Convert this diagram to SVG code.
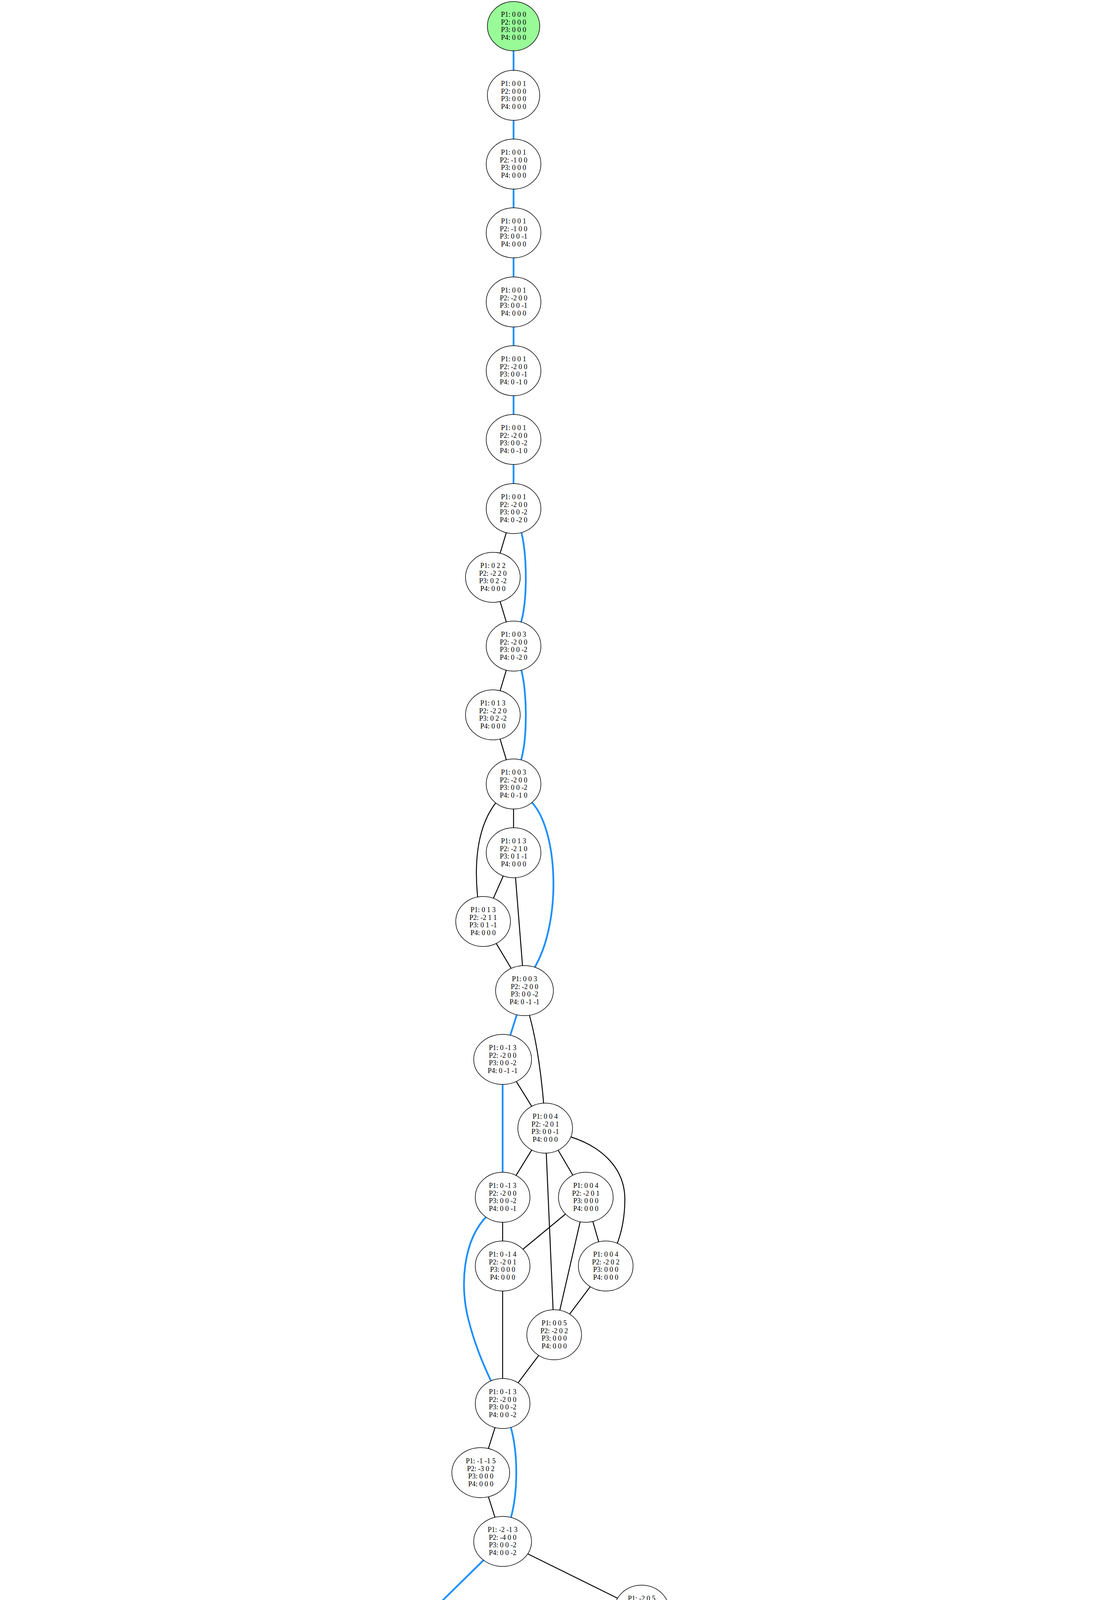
<svg xmlns="http://www.w3.org/2000/svg" width="2832" height="4721" viewBox="0 0 2832 4721">
<style>
.e{fill:none;stroke:#000;stroke-width:2.4}
.b{fill:none;stroke:#1e90ff;stroke-width:4.5}
ellipse{fill:#fff;stroke:#000;stroke-width:1.5}
.g ellipse{fill:#98fb98}
.r ellipse{fill:#ff9999}
text{font-family:"Liberation Serif","Times New Roman",serif;font-size:18px;text-anchor:middle;fill:#000}
</style>
<rect width="2832" height="4721" fill="#fff"/>
<g id="connectors">
<path class="b" d="M1315,67 V244"/>
<path class="b" d="M1315,244 V420"/>
<path class="b" d="M1315,420 V596"/>
<path class="b" d="M1315,596 V773"/>
<path class="b" d="M1315,773 V949"/>
<path class="b" d="M1315,949 V1125"/>
<path class="b" d="M1315,1125 V1302"/>
<path class="b" d="M1333,1356 C1350,1410 1352,1540 1332,1600"/>
<path class="b" d="M1333,1709 C1350,1763 1352,1893 1332,1953"/>
<path class="b" d="M1358,2050 C1430,2120 1440,2360 1367,2480"/>
<path class="b" d="M1343,2536 L1287,2712"/>
<path class="b" d="M1287,2712 V3065"/>
<path class="b" d="M1250,3110 C1182,3175 1178,3300 1200,3380 C1215,3440 1240,3500 1262,3545"/>
<path class="b" d="M1307,3650 C1327,3720 1327,3820 1307,3890"/>
<path class="b" d="M1287,3946 L928,4299"/>
<path class="b" d="M870,4318 C790,4350 690,4390 630,4436"/>
<path class="e" d="M1315,1302 L1262,1478"/>
<path class="e" d="M1262,1478 L1315,1654"/>
<path class="e" d="M1315,1654 L1262,1830"/>
<path class="e" d="M1262,1830 L1315,2007"/>
<path class="e" d="M1315,2007 V2183"/>
<path class="e" d="M1272,2052 C1225,2110 1212,2200 1224,2305"/>
<path class="e" d="M1315,2183 L1237,2359"/>
<path class="e" d="M1315,2183 L1343,2536"/>
<path class="e" d="M1237,2359 L1343,2536"/>
<path class="e" d="M1350,2580 C1372,2650 1390,2760 1396,2888"/>
<path class="e" d="M1287,2712 L1396,2888"/>
<path class="e" d="M1396,2888 L1287,3065"/>
<path class="e" d="M1396,2888 L1500,3065"/>
<path class="e" d="M1460,2910 C1540,2935 1600,2990 1600,3070 C1600,3120 1590,3160 1578,3190"/>
<path class="e" d="M1396,2888 L1419,3417"/>
<path class="e" d="M1287,3065 V3241"/>
<path class="e" d="M1500,3065 L1287,3241"/>
<path class="e" d="M1500,3065 L1551,3241"/>
<path class="e" d="M1500,3065 L1419,3417"/>
<path class="e" d="M1287,3241 V3593"/>
<path class="e" d="M1551,3241 L1419,3417"/>
<path class="e" d="M1419,3417 L1287,3593"/>
<path class="e" d="M1287,3593 L1231,3770"/>
<path class="e" d="M1231,3770 L1287,3946"/>
<path class="e" d="M1287,3946 L1643,4122"/>
<path class="e" d="M1643,4122 L928,4299"/>
<path class="e" d="M1643,4122 L744,4475"/>
<path class="e" d="M1643,4122 L1537,4299"/>
<path class="e" d="M1643,4122 L1590,4475"/>
<path class="e" d="M1643,4122 L2005,4299"/>
<path class="e" d="M1643,4122 L2004,4475"/>
<path class="e" d="M1705,4138 C1800,4160 2100,4220 2200,4278"/>
<path class="e" d="M1705,4127 C2000,4155 2300,4200 2422,4268"/>
<path class="e" d="M928,4299 L744,4475"/>
<path class="e" d="M1537,4299 L1419,4475"/>
<path class="e" d="M1537,4299 L1590,4475"/>
<path class="e" d="M2005,4299 V4475"/>
<path class="e" d="M2005,4299 L2175,4475"/>
<path class="e" d="M2260,4299 L2354,4475"/>
<path class="e" d="M2478,4299 L2532,4475"/>
<path class="e" d="M700,4525 C670,4555 610,4570 540,4568 C460,4566 390,4550 312,4555 C230,4560 160,4575 120,4612"/>
<path class="e" d="M695,4525 C660,4558 600,4563 530,4563 C450,4563 360,4560 298,4612"/>
<path class="e" d="M700,4525 C680,4550 640,4560 600,4565 C530,4575 490,4585 462,4612"/>
<path class="e" d="M744,4475 L580,4651"/>
<path class="e" d="M744,4475 V4651"/>
<path class="e" d="M744,4475 L908,4651"/>
<path class="e" d="M1545,4522 C1510,4552 1470,4563 1420,4563 C1330,4562 1170,4550 1120,4612"/>
<path class="e" d="M1545,4522 C1510,4555 1470,4566 1420,4568 C1350,4572 1300,4585 1282,4612"/>
<path class="e" d="M1590,4475 L1411,4651"/>
<path class="e" d="M1590,4475 V4651"/>
<path class="e" d="M1590,4475 L1759,4651"/>
<path class="e" d="M1650,4495 C1720,4525 1820,4560 1875,4612"/>
<path class="e" d="M2004,4475 L1923,4651"/>
<path class="e" d="M2004,4475 L2088,4651"/>
<path class="e" d="M2050,4515 C2110,4550 2170,4570 2200,4608"/>
<path class="e" d="M2055,4515 C2100,4560 2200,4555 2272,4563 C2320,4570 2345,4590 2365,4610"/>
<path class="e" d="M2055,4515 C2110,4575 2200,4580 2270,4572 C2360,4560 2480,4540 2545,4612"/>
<path class="e" d="M2055,4515 C2120,4585 2260,4572 2380,4558 C2520,4540 2650,4545 2710,4612"/>
</g>
<g id="n0" class="g"><ellipse cx="1315" cy="67" rx="67" ry="63"/><text y="43"><tspan x="1315">P1: 0 0 0</tspan><tspan x="1315" dy="19.5">P2: 0 0 0</tspan><tspan x="1315" dy="19.5">P3: 0 0 0</tspan><tspan x="1315" dy="19.5">P4: 0 0 0</tspan></text></g>
<g id="n1"><ellipse cx="1315" cy="244" rx="67" ry="64"/><text y="220"><tspan x="1315">P1: 0 0 1</tspan><tspan x="1315" dy="19.5">P2: 0 0 0</tspan><tspan x="1315" dy="19.5">P3: 0 0 0</tspan><tspan x="1315" dy="19.5">P4: 0 0 0</tspan></text></g>
<g id="n2"><ellipse cx="1315" cy="420" rx="70" ry="64"/><text y="396"><tspan x="1315">P1: 0 0 1</tspan><tspan x="1315" dy="19.5">P2: -1 0 0</tspan><tspan x="1315" dy="19.5">P3: 0 0 0</tspan><tspan x="1315" dy="19.5">P4: 0 0 0</tspan></text></g>
<g id="n3"><ellipse cx="1315" cy="596" rx="70" ry="64"/><text y="572"><tspan x="1315">P1: 0 0 1</tspan><tspan x="1315" dy="19.5">P2: -1 0 0</tspan><tspan x="1315" dy="19.5">P3: 0 0 -1</tspan><tspan x="1315" dy="19.5">P4: 0 0 0</tspan></text></g>
<g id="n4"><ellipse cx="1315" cy="773" rx="70" ry="64"/><text y="749"><tspan x="1315">P1: 0 0 1</tspan><tspan x="1315" dy="19.5">P2: -2 0 0</tspan><tspan x="1315" dy="19.5">P3: 0 0 -1</tspan><tspan x="1315" dy="19.5">P4: 0 0 0</tspan></text></g>
<g id="n5"><ellipse cx="1315" cy="949" rx="70" ry="64"/><text y="925"><tspan x="1315">P1: 0 0 1</tspan><tspan x="1315" dy="19.5">P2: -2 0 0</tspan><tspan x="1315" dy="19.5">P3: 0 0 -1</tspan><tspan x="1315" dy="19.5">P4: 0 -1 0</tspan></text></g>
<g id="n6"><ellipse cx="1315" cy="1125" rx="70" ry="64"/><text y="1101"><tspan x="1315">P1: 0 0 1</tspan><tspan x="1315" dy="19.5">P2: -2 0 0</tspan><tspan x="1315" dy="19.5">P3: 0 0 -2</tspan><tspan x="1315" dy="19.5">P4: 0 -1 0</tspan></text></g>
<g id="n7"><ellipse cx="1315" cy="1302" rx="70" ry="64"/><text y="1278"><tspan x="1315">P1: 0 0 1</tspan><tspan x="1315" dy="19.5">P2: -2 0 0</tspan><tspan x="1315" dy="19.5">P3: 0 0 -2</tspan><tspan x="1315" dy="19.5">P4: 0 -2 0</tspan></text></g>
<g id="n8"><ellipse cx="1262" cy="1478" rx="70" ry="64"/><text y="1454"><tspan x="1262">P1: 0 2 2</tspan><tspan x="1262" dy="19.5">P2: -2 2 0</tspan><tspan x="1262" dy="19.5">P3: 0 2 -2</tspan><tspan x="1262" dy="19.5">P4: 0 0 0</tspan></text></g>
<g id="n9"><ellipse cx="1315" cy="1654" rx="70" ry="64"/><text y="1630"><tspan x="1315">P1: 0 0 3</tspan><tspan x="1315" dy="19.5">P2: -2 0 0</tspan><tspan x="1315" dy="19.5">P3: 0 0 -2</tspan><tspan x="1315" dy="19.5">P4: 0 -2 0</tspan></text></g>
<g id="n10"><ellipse cx="1262" cy="1830" rx="70" ry="64"/><text y="1806"><tspan x="1262">P1: 0 1 3</tspan><tspan x="1262" dy="19.5">P2: -2 2 0</tspan><tspan x="1262" dy="19.5">P3: 0 2 -2</tspan><tspan x="1262" dy="19.5">P4: 0 0 0</tspan></text></g>
<g id="n11"><ellipse cx="1315" cy="2007" rx="70" ry="64"/><text y="1983"><tspan x="1315">P1: 0 0 3</tspan><tspan x="1315" dy="19.5">P2: -2 0 0</tspan><tspan x="1315" dy="19.5">P3: 0 0 -2</tspan><tspan x="1315" dy="19.5">P4: 0 -1 0</tspan></text></g>
<g id="n12"><ellipse cx="1315" cy="2183" rx="70" ry="64"/><text y="2159"><tspan x="1315">P1: 0 1 3</tspan><tspan x="1315" dy="19.5">P2: -2 1 0</tspan><tspan x="1315" dy="19.5">P3: 0 1 -1</tspan><tspan x="1315" dy="19.5">P4: 0 0 0</tspan></text></g>
<g id="n13"><ellipse cx="1237" cy="2359" rx="70" ry="64"/><text y="2335"><tspan x="1237">P1: 0 1 3</tspan><tspan x="1237" dy="19.5">P2: -2 1 1</tspan><tspan x="1237" dy="19.5">P3: 0 1 -1</tspan><tspan x="1237" dy="19.5">P4: 0 0 0</tspan></text></g>
<g id="n14"><ellipse cx="1343" cy="2536" rx="74" ry="64"/><text y="2512"><tspan x="1343">P1: 0 0 3</tspan><tspan x="1343" dy="19.5">P2: -2 0 0</tspan><tspan x="1343" dy="19.5">P3: 0 0 -2</tspan><tspan x="1343" dy="19.5">P4: 0 -1 -1</tspan></text></g>
<g id="n15"><ellipse cx="1287" cy="2712" rx="74" ry="64"/><text y="2688"><tspan x="1287">P1: 0 -1 3</tspan><tspan x="1287" dy="19.5">P2: -2 0 0</tspan><tspan x="1287" dy="19.5">P3: 0 0 -2</tspan><tspan x="1287" dy="19.5">P4: 0 -1 -1</tspan></text></g>
<g id="n16"><ellipse cx="1396" cy="2888" rx="70" ry="64"/><text y="2864"><tspan x="1396">P1: 0 0 4</tspan><tspan x="1396" dy="19.5">P2: -2 0 1</tspan><tspan x="1396" dy="19.5">P3: 0 0 -1</tspan><tspan x="1396" dy="19.5">P4: 0 0 0</tspan></text></g>
<g id="n17a"><ellipse cx="1287" cy="3065" rx="70" ry="64"/><text y="3041"><tspan x="1287">P1: 0 -1 3</tspan><tspan x="1287" dy="19.5">P2: -2 0 0</tspan><tspan x="1287" dy="19.5">P3: 0 0 -2</tspan><tspan x="1287" dy="19.5">P4: 0 0 -1</tspan></text></g>
<g id="n17b"><ellipse cx="1500" cy="3065" rx="70" ry="64"/><text y="3041"><tspan x="1500">P1: 0 0 4</tspan><tspan x="1500" dy="19.5">P2: -2 0 1</tspan><tspan x="1500" dy="19.5">P3: 0 0 0</tspan><tspan x="1500" dy="19.5">P4: 0 0 0</tspan></text></g>
<g id="n18a"><ellipse cx="1287" cy="3241" rx="70" ry="64"/><text y="3217"><tspan x="1287">P1: 0 -1 4</tspan><tspan x="1287" dy="19.5">P2: -2 0 1</tspan><tspan x="1287" dy="19.5">P3: 0 0 0</tspan><tspan x="1287" dy="19.5">P4: 0 0 0</tspan></text></g>
<g id="n18b"><ellipse cx="1551" cy="3241" rx="70" ry="64"/><text y="3217"><tspan x="1551">P1: 0 0 4</tspan><tspan x="1551" dy="19.5">P2: -2 0 2</tspan><tspan x="1551" dy="19.5">P3: 0 0 0</tspan><tspan x="1551" dy="19.5">P4: 0 0 0</tspan></text></g>
<g id="n19"><ellipse cx="1419" cy="3417" rx="70" ry="64"/><text y="3393"><tspan x="1419">P1: 0 0 5</tspan><tspan x="1419" dy="19.5">P2: -2 0 2</tspan><tspan x="1419" dy="19.5">P3: 0 0 0</tspan><tspan x="1419" dy="19.5">P4: 0 0 0</tspan></text></g>
<g id="n20"><ellipse cx="1287" cy="3593" rx="70" ry="64"/><text y="3569"><tspan x="1287">P1: 0 -1 3</tspan><tspan x="1287" dy="19.5">P2: -2 0 0</tspan><tspan x="1287" dy="19.5">P3: 0 0 -2</tspan><tspan x="1287" dy="19.5">P4: 0 0 -2</tspan></text></g>
<g id="n21"><ellipse cx="1231" cy="3770" rx="74" ry="64"/><text y="3746"><tspan x="1231">P1: -1 -1 5</tspan><tspan x="1231" dy="19.5">P2: -3 0 2</tspan><tspan x="1231" dy="19.5">P3: 0 0 0</tspan><tspan x="1231" dy="19.5">P4: 0 0 0</tspan></text></g>
<g id="n22"><ellipse cx="1287" cy="3946" rx="74" ry="64"/><text y="3922"><tspan x="1287">P1: -2 -1 3</tspan><tspan x="1287" dy="19.5">P2: -4 0 0</tspan><tspan x="1287" dy="19.5">P3: 0 0 -2</tspan><tspan x="1287" dy="19.5">P4: 0 0 -2</tspan></text></g>
<g id="n23"><ellipse cx="1643" cy="4122" rx="70" ry="64"/><text y="4098"><tspan x="1643">P1: -2 0 5</tspan><tspan x="1643" dy="19.5">P2: -4 0 2</tspan><tspan x="1643" dy="19.5">P3: 0 0 0</tspan><tspan x="1643" dy="19.5">P4: 0 0 0</tspan></text></g>
<g id="n24a"><ellipse cx="928" cy="4299" rx="70" ry="64"/><text y="4275"><tspan x="928">P1: -2 0 3</tspan><tspan x="928" dy="19.5">P2: -4 1 0</tspan><tspan x="928" dy="19.5">P3: 0 0 -2</tspan><tspan x="928" dy="19.5">P4: 0 0 -2</tspan></text></g>
<g id="n24b"><ellipse cx="1537" cy="4299" rx="70" ry="64"/><text y="4275"><tspan x="1537">P1: -4 0 5</tspan><tspan x="1537" dy="19.5">P2: -4 0 2</tspan><tspan x="1537" dy="19.5">P3: 0 0 0</tspan><tspan x="1537" dy="19.5">P4: 0 0 0</tspan></text></g>
<g id="n24c"><ellipse cx="2005" cy="4299" rx="70" ry="64"/><text y="4275"><tspan x="2005">P1: -3 0 5</tspan><tspan x="2005" dy="19.5">P2: -4 0 2</tspan><tspan x="2005" dy="19.5">P3: 0 0 0</tspan><tspan x="2005" dy="19.5">P4: 0 0 0</tspan></text></g>
<g id="n24d"><ellipse cx="2260" cy="4299" rx="70" ry="64"/><text y="4275"><tspan x="2260">P1: -2 0 5</tspan><tspan x="2260" dy="19.5">P2: -3 0 2</tspan><tspan x="2260" dy="19.5">P3: 0 0 0</tspan><tspan x="2260" dy="19.5">P4: 0 0 0</tspan></text></g>
<g id="n24e"><ellipse cx="2478" cy="4299" rx="70" ry="64"/><text y="4275"><tspan x="2478">P1: -2 0 5</tspan><tspan x="2478" dy="19.5">P2: -2 0 2</tspan><tspan x="2478" dy="19.5">P3: 0 0 0</tspan><tspan x="2478" dy="19.5">P4: 0 0 0</tspan></text></g>
<g id="n25a" class="r"><ellipse cx="574" cy="4475" rx="78" ry="64"/><text y="4451"><tspan x="574">P1: -2 0 -∞</tspan><tspan x="574" dy="19.5">P2: -4 1 -∞</tspan><tspan x="574" dy="19.5">P3: 0 0 -2</tspan><tspan x="574" dy="19.5">P4: 0 0 -2</tspan></text></g>
<g id="n25b"><ellipse cx="744" cy="4475" rx="70" ry="64"/><text y="4451"><tspan x="744">P1: -2 1 5</tspan><tspan x="744" dy="19.5">P2: -4 1 2</tspan><tspan x="744" dy="19.5">P3: 0 0 0</tspan><tspan x="744" dy="19.5">P4: 0 0 0</tspan></text></g>
<g id="n25c" class="r"><ellipse cx="1419" cy="4475" rx="78" ry="64"/><text y="4451"><tspan x="1419">P1: -4 0 -∞</tspan><tspan x="1419" dy="19.5">P2: -4 0 2</tspan><tspan x="1419" dy="19.5">P3: 0 0 0</tspan><tspan x="1419" dy="19.5">P4: 0 0 0</tspan></text></g>
<g id="n25d"><ellipse cx="1590" cy="4475" rx="70" ry="64"/><text y="4451"><tspan x="1590">P1: -4 0 5</tspan><tspan x="1590" dy="19.5">P2: -6 0 2</tspan><tspan x="1590" dy="19.5">P3: 0 0 0</tspan><tspan x="1590" dy="19.5">P4: 0 0 0</tspan></text></g>
<g id="n25e"><ellipse cx="2004" cy="4475" rx="70" ry="64"/><text y="4451"><tspan x="2004">P1: -3 0 5</tspan><tspan x="2004" dy="19.5">P2: -5 0 2</tspan><tspan x="2004" dy="19.5">P3: 0 0 0</tspan><tspan x="2004" dy="19.5">P4: 0 0 0</tspan></text></g>
<g id="n25f" class="r"><ellipse cx="2175" cy="4475" rx="78" ry="64"/><text y="4451"><tspan x="2175">P1: -3 0 -∞</tspan><tspan x="2175" dy="19.5">P2: -4 0 2</tspan><tspan x="2175" dy="19.5">P3: 0 0 0</tspan><tspan x="2175" dy="19.5">P4: 0 0 0</tspan></text></g>
<g id="n25g" class="r"><ellipse cx="2354" cy="4475" rx="78" ry="64"/><text y="4451"><tspan x="2354">P1: -2 0 -∞</tspan><tspan x="2354" dy="19.5">P2: -3 0 2</tspan><tspan x="2354" dy="19.5">P3: 0 0 0</tspan><tspan x="2354" dy="19.5">P4: 0 0 0</tspan></text></g>
<g id="n25h" class="r"><ellipse cx="2532" cy="4475" rx="78" ry="64"/><text y="4451"><tspan x="2532">P1: -2 0 -∞</tspan><tspan x="2532" dy="19.5">P2: -2 0 2</tspan><tspan x="2532" dy="19.5">P3: 0 0 0</tspan><tspan x="2532" dy="19.5">P4: 0 0 0</tspan></text></g>
<g id="n26a"><ellipse cx="75" cy="4651" rx="70" ry="64"/><text y="4627"><tspan x="75">P1: -2 1 5</tspan><tspan x="75" dy="19.5">P2: -4 1 3</tspan><tspan x="75" dy="19.5">P3: 0 0 0</tspan><tspan x="75" dy="19.5">P4: 0 0 0</tspan></text></g>
<g id="n26b" class="r"><ellipse cx="245" cy="4651" rx="77" ry="64"/><text y="4627"><tspan x="245">P1: +∞ 1 5</tspan><tspan x="245" dy="19.5">P2: +∞ 1 2</tspan><tspan x="245" dy="19.5">P3: 0 0 0</tspan><tspan x="245" dy="19.5">P4: 0 0 0</tspan></text></g>
<g id="n26c"><ellipse cx="415" cy="4651" rx="70" ry="64"/><text y="4627"><tspan x="415">P1: -3 1 5</tspan><tspan x="415" dy="19.5">P2: -4 1 2</tspan><tspan x="415" dy="19.5">P3: 0 0 0</tspan><tspan x="415" dy="19.5">P4: 0 0 0</tspan></text></g>
<g id="n26d"><ellipse cx="580" cy="4651" rx="70" ry="64"/><text y="4627"><tspan x="580">P1: -2 1 5</tspan><tspan x="580" dy="19.5">P2: -4 1 4</tspan><tspan x="580" dy="19.5">P3: 0 0 0</tspan><tspan x="580" dy="19.5">P4: 0 0 0</tspan></text></g>
<g id="n26e"><ellipse cx="744" cy="4651" rx="70" ry="64"/><text y="4627"><tspan x="744">P1: -4 1 5</tspan><tspan x="744" dy="19.5">P2: -4 1 2</tspan><tspan x="744" dy="19.5">P3: 0 0 0</tspan><tspan x="744" dy="19.5">P4: 0 0 0</tspan></text></g>
<g id="n26f"><ellipse cx="908" cy="4651" rx="70" ry="64"/><text y="4627"><tspan x="908">P1: -2 1 5</tspan><tspan x="908" dy="19.5">P2: -3 1 2</tspan><tspan x="908" dy="19.5">P3: 0 0 0</tspan><tspan x="908" dy="19.5">P4: 0 0 0</tspan></text></g>
<g id="n26g"><ellipse cx="1073" cy="4651" rx="70" ry="64"/><text y="4627"><tspan x="1073">P1: -4 0 5</tspan><tspan x="1073" dy="19.5">P2: -6 0 3</tspan><tspan x="1073" dy="19.5">P3: 0 0 0</tspan><tspan x="1073" dy="19.5">P4: 0 0 0</tspan></text></g>
<g id="n26h"><ellipse cx="1236" cy="4651" rx="70" ry="64"/><text y="4627"><tspan x="1236">P1: -4 0 5</tspan><tspan x="1236" dy="19.5">P2: -6 0 4</tspan><tspan x="1236" dy="19.5">P3: 0 0 0</tspan><tspan x="1236" dy="19.5">P4: 0 0 0</tspan></text></g>
<g id="n26i" class="r"><ellipse cx="1411" cy="4651" rx="82" ry="64"/><text y="4627"><tspan x="1411">P1: -4 +∞ 5</tspan><tspan x="1411" dy="19.5">P2: -6 +∞ 2</tspan><tspan x="1411" dy="19.5">P3: 0 0 0</tspan><tspan x="1411" dy="19.5">P4: 0 0 0</tspan></text></g>
<g id="n26j"><ellipse cx="1590" cy="4651" rx="74" ry="64"/><text y="4627"><tspan x="1590">P1: -4 -1 5</tspan><tspan x="1590" dy="19.5">P2: -6 0 2</tspan><tspan x="1590" dy="19.5">P3: 0 0 0</tspan><tspan x="1590" dy="19.5">P4: 0 0 0</tspan></text></g>
<g id="n26k"><ellipse cx="1759" cy="4651" rx="70" ry="64"/><text y="4627"><tspan x="1759">P1: -4 0 5</tspan><tspan x="1759" dy="19.5">P2: -6 1 2</tspan><tspan x="1759" dy="19.5">P3: 0 0 0</tspan><tspan x="1759" dy="19.5">P4: 0 0 0</tspan></text></g>
<g id="n26l"><ellipse cx="1923" cy="4651" rx="70" ry="64"/><text y="4627"><tspan x="1923">P1: -4 0 5</tspan><tspan x="1923" dy="19.5">P2: -5 0 2</tspan><tspan x="1923" dy="19.5">P3: 0 0 0</tspan><tspan x="1923" dy="19.5">P4: 0 0 0</tspan></text></g>
<g id="n26m"><ellipse cx="2088" cy="4651" rx="70" ry="64"/><text y="4627"><tspan x="2088">P1: -3 0 5</tspan><tspan x="2088" dy="19.5">P2: -5 0 3</tspan><tspan x="2088" dy="19.5">P3: 0 0 0</tspan><tspan x="2088" dy="19.5">P4: 0 0 0</tspan></text></g>
<g id="n26n"><ellipse cx="2251" cy="4651" rx="70" ry="64"/><text y="4627"><tspan x="2251">P1: -3 0 5</tspan><tspan x="2251" dy="19.5">P2: -5 0 4</tspan><tspan x="2251" dy="19.5">P3: 0 0 0</tspan><tspan x="2251" dy="19.5">P4: 0 0 0</tspan></text></g>
<g id="n26o" class="r"><ellipse cx="2422" cy="4651" rx="78" ry="64"/><text y="4627"><tspan x="2422">P1: -3 0 -∞</tspan><tspan x="2422" dy="19.5">P2: -5 0 -∞</tspan><tspan x="2422" dy="19.5">P3: 0 0 0</tspan><tspan x="2422" dy="19.5">P4: 0 0 0</tspan></text></g>
<g id="n26p"><ellipse cx="2590" cy="4651" rx="70" ry="64"/><text y="4627"><tspan x="2590">P1: -3 0 5</tspan><tspan x="2590" dy="19.5">P2: -3 0 2</tspan><tspan x="2590" dy="19.5">P3: 0 0 0</tspan><tspan x="2590" dy="19.5">P4: 0 0 0</tspan></text></g>
<g id="n26q"><ellipse cx="2756" cy="4651" rx="70" ry="64"/><text y="4627"><tspan x="2756">P1: -3 0 5</tspan><tspan x="2756" dy="19.5">P2: -5 1 2</tspan><tspan x="2756" dy="19.5">P3: 0 0 0</tspan><tspan x="2756" dy="19.5">P4: 0 0 0</tspan></text></g>
</svg>
